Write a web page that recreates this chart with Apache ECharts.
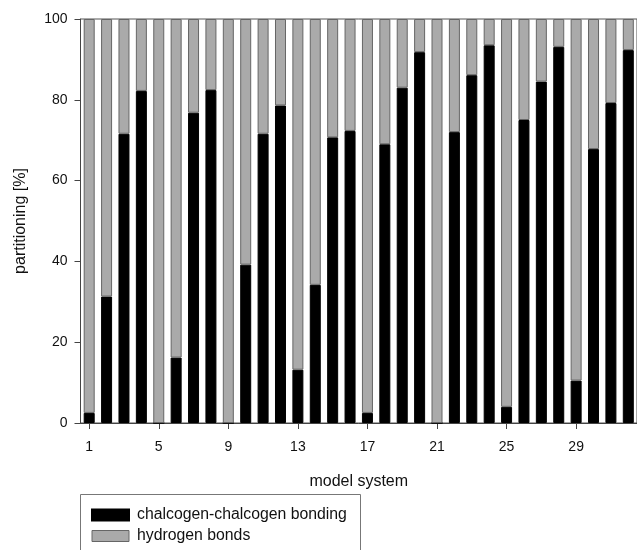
<!DOCTYPE html>
<html><head><meta charset="utf-8">
<script src="https://cdn.jsdelivr.net/npm/echarts@6/dist/echarts.min.js"></script>
<style>html,body{margin:0;padding:0;background:#fff}#c{width:637px;height:550px}</style>
</head><body><div id="c"></div>
<script>
const modelSystems = ['1','2','3','4','5','6','7','8','9','10','11','12','13','14','15','16','17','18','19','20','21','22','23','24','25','26','27','28','29','30','31','32'];
const chalcogen = [2.5,31.3,71.6,82.2,0,16.2,76.8,82.4,0,39.2,71.6,78.6,13.2,34.2,70.7,72.3,2.5,69.0,83.0,91.8,0,72.0,86.1,93.5,4.0,75.0,84.5,93.1,10.5,67.8,79.2,92.3];
const hydrogen = [97.5,68.7,28.4,17.8,100,83.8,23.2,17.6,100,60.8,28.4,21.4,86.8,65.8,29.3,27.7,97.5,31.0,17.0,8.2,100,28.0,13.9,6.5,96.0,25.0,15.5,6.9,89.5,32.2,20.8,7.7];
const yTicks = [0,20,40,60,80,100];

const chart = echarts.init(document.getElementById('c'), null, {renderer:'canvas'});
const font = 'Liberation Sans, Arial, sans-serif';
chart.setOption({
  animation:false,
  grid:{left:80.5, top:19, bottom:127, right:-5.6, show:true, borderColor:'#555', borderWidth:1, backgroundColor:'transparent'},
  xAxis:{type:'category', data:modelSystems, boundaryGap:true, name:'model system', nameLocation:'middle', nameGap:51,
    nameTextStyle:{fontFamily:font, fontSize:16, color:'#111'},
    axisLine:{show:true, lineStyle:{color:'#444', width:1}},
    axisTick:{show:true, interval:3, alignWithLabel:true, length:6, lineStyle:{color:'#444'}},
    axisLabel:{interval:3, fontFamily:font, fontSize:14, color:'#111', margin:17},
    splitLine:{show:false}},
  yAxis:{type:'value', min:0, max:100, interval:20, name:'partitioning [%]', nameLocation:'middle', nameGap:52,
    nameTextStyle:{fontFamily:font, fontSize:16, color:'#111'},
    axisLine:{show:true, lineStyle:{color:'#444', width:1}},
    axisTick:{show:true, length:6, lineStyle:{color:'#444'}},
    axisLabel:{fontFamily:font, fontSize:14, color:'#111', margin:13},
    splitLine:{show:false}},
  graphic:[{type:'rect', shape:{x:80.5, y:494.5, width:280, height:80}, style:{fill:'none', stroke:'#777', lineWidth:1}, silent:true}],
  legend:{left:80, top:494, orient:'vertical', icon:'rect', itemWidth:37, itemHeight:11, itemGap:5,
    padding:[13,0,0,11],
    textStyle:{fontFamily:font, fontSize:15.8, lineHeight:15, color:'#111', padding:[0,0,0,3]},
    data:[{name:'chalcogen-chalcogen bonding', itemStyle:{color:'#000', borderColor:'#000'}},
          {name:'hydrogen bonds', itemStyle:{color:'#aaa', borderColor:'#666', borderWidth:1}}]},
  series:[
    {name:'chalcogen-chalcogen bonding', type:'bar', stack:'s', barWidth:11,
     itemStyle:{color:'#000', borderColor:'#000', borderWidth:1},
     data:chalcogen},
    {name:'hydrogen bonds', type:'bar', stack:'s', barWidth:11,
     itemStyle:{color:'#aaa', borderColor:'#666', borderWidth:1},
     data:hydrogen}
  ]
});
</script></body></html>
